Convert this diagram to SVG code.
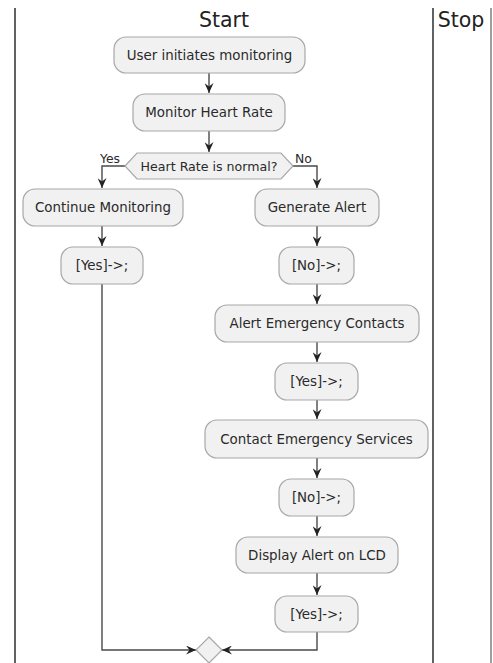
<svg xmlns="http://www.w3.org/2000/svg" width="493" height="663" viewBox="0 0 493 663">
<defs>
<style>
.lane{stroke:#3a3a3a;stroke-width:1.6;fill:none}
.title{font-family:"DejaVu Sans",sans-serif;font-size:20.5px;fill:#222;text-anchor:middle}
.box{fill:#F1F1F1;stroke:#a8a8a8;stroke-width:1.2}
.t{font-family:"DejaVu Sans",sans-serif;font-size:13.4px;fill:#2a2a2a;text-anchor:middle}
.dt{font-family:"DejaVu Sans",sans-serif;font-size:12.6px;fill:#2a2a2a;text-anchor:middle}
.lbl{font-family:"DejaVu Sans",sans-serif;font-size:12.4px;fill:#2a2a2a}
.edge{stroke:#4a4a4a;stroke-width:1.4;fill:none}
</style>
<marker id="arr" markerUnits="userSpaceOnUse" markerWidth="11" markerHeight="9" refX="10" refY="4.5" orient="auto">
<path d="M0,0 L10,4.5 L0,9 L3.5,4.5 Z" fill="#222"/>
</marker>
</defs>
<rect width="493" height="663" fill="#fff"/>
<g id="lanes">
<line class="lane" x1="15" y1="8" x2="15" y2="663"/>
<line class="lane" x1="433" y1="8" x2="433" y2="663"/>
<line class="lane" x1="491" y1="8" x2="491" y2="663" style="stroke:#888"/>
<text class="title" x="224" y="27">Start</text>
<text class="title" x="461" y="27">Stop</text>
</g>
<g id="connectors">
<path class="edge" d="M209,73 V93" marker-end="url(#arr)"/>
<path class="edge" d="M209,131 V152" marker-end="url(#arr)"/>
<path class="edge" d="M125,166 H102 V188" marker-end="url(#arr)"/>
<path class="edge" d="M293,166 H317 V188" marker-end="url(#arr)"/>
<path class="edge" d="M102,226 V246" marker-end="url(#arr)"/>
<path class="edge" d="M317,226 V246" marker-end="url(#arr)"/>
<path class="edge" d="M317,284 V304" marker-end="url(#arr)"/>
<path class="edge" d="M317,342 V362" marker-end="url(#arr)"/>
<path class="edge" d="M317,400 V419" marker-end="url(#arr)"/>
<path class="edge" d="M317,458 V478" marker-end="url(#arr)"/>
<path class="edge" d="M317,516 V536" marker-end="url(#arr)"/>
<path class="edge" d="M317,573 V595" marker-end="url(#arr)"/>
<path class="edge" d="M102,284 V650 H196" marker-end="url(#arr)"/>
<path class="edge" d="M317,632 V650 H222" marker-end="url(#arr)"/>
</g>
<g id="n1"><rect class="box" x="114" y="37" width="191" height="36" rx="12"/><text class="t" x="209.5" y="60">User initiates monitoring</text></g>
<g id="n2"><rect class="box" x="133" y="94" width="152" height="37" rx="12"/><text class="t" x="209" y="117">Monitor Heart Rate</text></g>
<g id="d1"><polygon class="box" points="125,166 137,153 281,153 293,166 281,179 137,179"/><text class="dt" x="209" y="170.5">Heart Rate is normal?</text>
<text class="lbl" x="100" y="163">Yes</text><text class="lbl" x="295" y="163">No</text></g>
<g id="n3"><rect class="box" x="23" y="189" width="160" height="37" rx="12"/><text class="t" x="103" y="212">Continue Monitoring</text></g>
<g id="n4"><rect class="box" x="255" y="189" width="124" height="37" rx="12"/><text class="t" x="317" y="212">Generate Alert</text></g>
<g id="n5"><rect class="box" x="61" y="247" width="82" height="37" rx="12"/><text class="t" x="102" y="270">[Yes]-&gt;;</text></g>
<g id="n6"><rect class="box" x="279" y="247" width="75" height="37" rx="12"/><text class="t" x="316.5" y="270">[No]-&gt;;</text></g>
<g id="n7"><rect class="box" x="215" y="305" width="204" height="37" rx="12"/><text class="t" x="317" y="328">Alert Emergency Contacts</text></g>
<g id="n8"><rect class="box" x="275" y="363" width="83" height="37" rx="12"/><text class="t" x="316.5" y="386">[Yes]-&gt;;</text></g>
<g id="n9"><rect class="box" x="205" y="420" width="223" height="38" rx="12"/><text class="t" x="316.5" y="443.5">Contact Emergency Services</text></g>
<g id="n10"><rect class="box" x="279" y="479" width="75" height="37" rx="12"/><text class="t" x="316.5" y="502">[No]-&gt;;</text></g>
<g id="n11"><rect class="box" x="236" y="537" width="162" height="36" rx="12"/><text class="t" x="317" y="560">Display Alert on LCD</text></g>
<g id="n12"><rect class="box" x="275" y="596" width="83" height="36" rx="12"/><text class="t" x="316.5" y="619">[Yes]-&gt;;</text></g>
<g id="merge"><polygon class="box" points="209,637 222,650 209,663 196,650"/></g>
</svg>
